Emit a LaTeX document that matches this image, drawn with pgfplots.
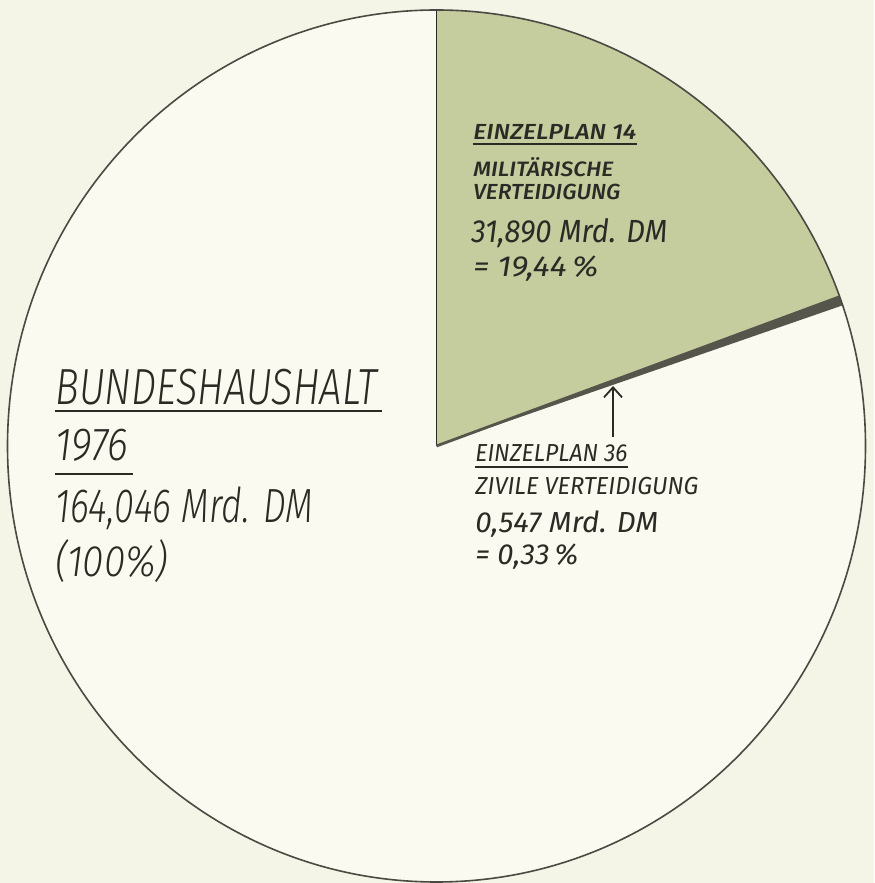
\documentclass[border=0pt]{standalone}
\usepackage{pgfplots}
\pgfplotsset{compat=1.18}
\usepackage{pgfplotstable}
\usepackage{graphicx}
\usepackage{fontspec}
\setmainfont{Fira Sans}
\IfFontExistsTF{Fira Sans Light Italic}{\newfontfamily\thin{Fira Sans Light Italic}}{\newfontfamily\thin{Fira Sans Italic}}
\IfFontExistsTF{Fira Sans Medium Italic}{\newfontfamily\med{Fira Sans Medium Italic}}{\newfontfamily\med{Fira Sans Italic}}
\newfontfamily\reg{Fira Sans Italic}
\usetikzlibrary{arrows.meta}
\definecolor{bg}{HTML}{F4F4E7}
\definecolor{pie}{HTML}{FAFAF0}
\definecolor{mil}{HTML}{C5CC9D}
\definecolor{civ}{HTML}{55554C}
\definecolor{ink}{HTML}{2B2B26}
\definecolor{rim}{HTML}{4A4A42}

\pgfplotstableread{
name value
total 164.046
mil 31.890
civ 0.547
}\budget
\pgfplotstablegetelem{0}{value}\of\budget \edef\vtot{\pgfplotsretval}
\pgfplotstablegetelem{1}{value}\of\budget \edef\vmil{\pgfplotsretval}
\pgfplotstablegetelem{2}{value}\of\budget \edef\vciv{\pgfplotsretval}
\pgfmathsetmacro\emil{90-360*\vmil/\vtot}
\pgfmathsetmacro\eciv{\emil-360*\vciv/\vtot}

% x, y, width(pt), fontsize(pt), font, text
\newcommand\lab[6]{%
  \node[anchor=base west, inner sep=0pt, text=ink] at (axis cs:#1,#2)
    {\resizebox{#3pt}{\height}{\fontsize{#4pt}{#4pt}#5\selectfont #6}};}

\begin{document}
\begin{tikzpicture}
\begin{axis}[x=0.5pt, y=0.5pt, xmin=0, xmax=874, ymin=0, ymax=883,
  hide axis, clip=false, scale only axis]
\fill[bg] (axis cs:0,0) rectangle (axis cs:874,883);
\fill[pie] (axis cs:436.5,437) ellipse[x radius=214.5pt, y radius=218pt];
\fill[mil] (axis cs:436.5,437) -- ++(90:0pt and 218pt)
   arc[start angle=90, end angle=\emil, x radius=214.5pt, y radius=218pt] -- cycle;
\fill[civ] (axis cs:436.5,437) -- ++(\emil:214.5pt and 218pt)
   arc[start angle=\emil, end angle=\eciv, x radius=214.5pt, y radius=218pt] -- cycle;
\draw[ink, line width=0.8pt] (axis cs:436.5,437) -- ++(90:0pt and 218pt);
\draw[civ, line width=1.4pt] (axis cs:436.5,437) -- ++(\emil:214.5pt and 218pt);
\draw[rim, line width=0.8pt] (axis cs:436.5,437) ellipse[x radius=214.5pt, y radius=218pt];

% arrow
\draw[ink, line width=0.9pt, -{Straight Barb[length=5pt, width=9pt, line width=0.9pt]}]
   (axis cs:613,446) -- (axis cs:613,497);

% right upper block
\lab{473}{743}{81.5}{10.9}{\med}{EINZELPLAN 14}
\draw[ink, line width=1.2pt] (axis cs:473,739) -- (axis cs:637,739);
\lab{473}{706}{70}{10.4}{\med}{MILITÄRISCHE}
\lab{473}{683}{73.5}{10.9}{\med}{VERTEIDIGUNG}
\lab{471}{640}{98}{16}{\reg}{31,890 Mrd. DM}
\lab{473}{606}{62.5}{14.5}{\reg}{= 19,44\,\%}

% right lower block
\lab{475}{421}{76}{12.3}{\reg}{EINZELPLAN 36}
\draw[ink, line width=0.8pt] (axis cs:475,416) -- (axis cs:628,416);
\lab{475}{388}{111.5}{12.3}{\reg}{ZIVILE VERTEIDIGUNG}
\lab{475}{350}{91.5}{14.5}{\reg}{0,547 Mrd. DM}
\lab{475}{318}{51.5}{14.5}{\reg}{= 0,33\,\%}

% left block
\lab{55}{478}{161}{25.4}{\thin}{BUNDESHAUSHALT}
\draw[ink, line width=1pt] (axis cs:55,472) -- (axis cs:382,472);
\lab{55}{422}{36.5}{23.2}{\thin}{1976}
\draw[ink, line width=0.8pt] (axis cs:55,409) -- (axis cs:133,409);
\lab{55}{360}{129}{24}{\thin}{164,046 Mrd. DM}
\lab{55}{306}{56.5}{22}{\thin}{(100\%)}
\end{axis}
\end{tikzpicture}
\end{document}
